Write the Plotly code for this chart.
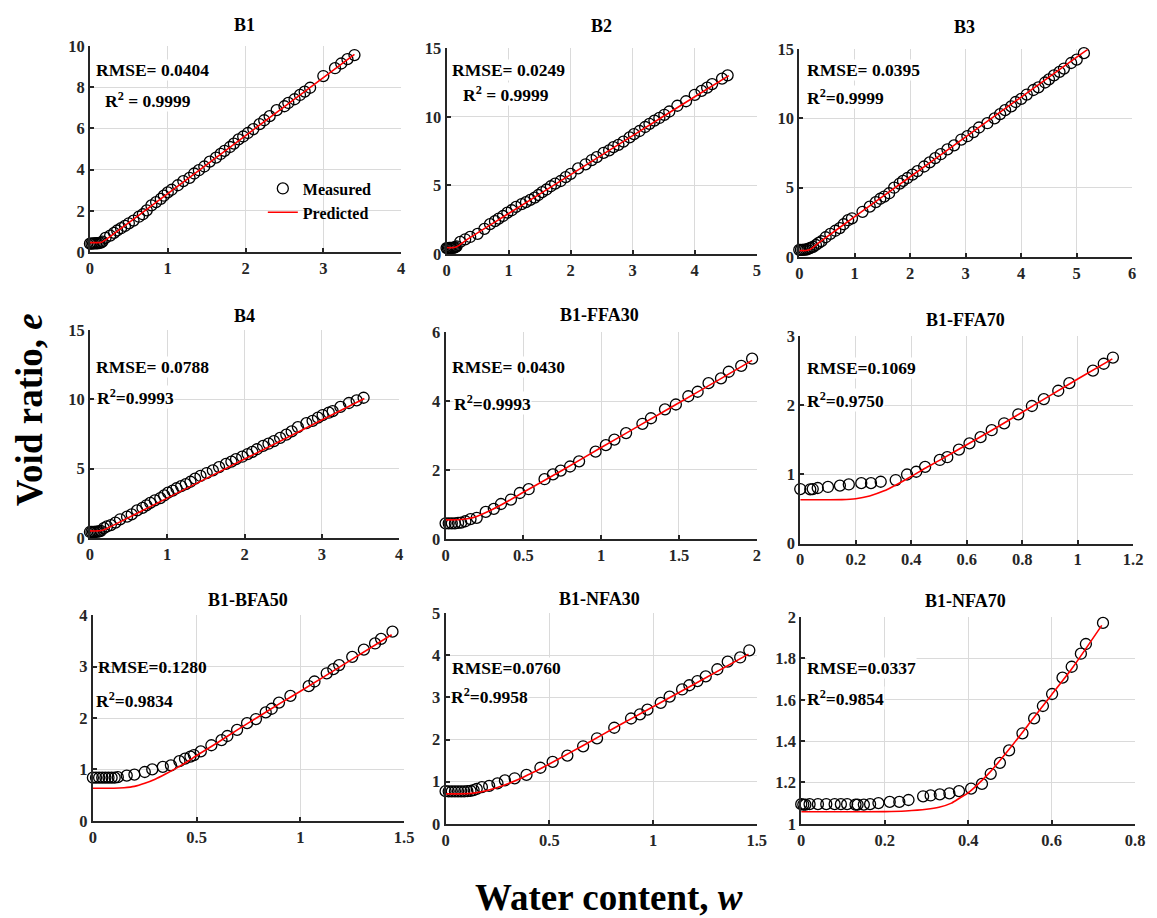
import plotly.graph_objects as go

# ---------------- DATA ----------------
panel_titles = ["B1", "B2", "B3", "B4", "B1-FFA30", "B1-FFA70", "B1-BFA50", "B1-NFA30", "B1-NFA70"]
rmse_labels = ["RMSE= 0.0404", "RMSE= 0.0249", "RMSE= 0.0395", "RMSE= 0.0788", "RMSE= 0.0430",
               "RMSE=0.1069", "RMSE=0.1280", "RMSE=0.0760", "RMSE=0.0337"]
r2_labels = ["R<sup>2</sup> = 0.9999", "R<sup>2</sup> = 0.9999", "R<sup>2</sup>=0.9999", "R<sup>2</sup>=0.9993",
             "R<sup>2</sup>=0.9993", "R<sup>2</sup>=0.9750", "R<sup>2</sup>=0.9834", "R<sup>2</sup>=0.9958",
             "R<sup>2</sup>=0.9854"]

b1_w = [0.0, 0.02, 0.04, 0.06, 0.08, 0.1, 0.12, 0.14, 0.16, 0.2, 0.26, 0.31, 0.35, 0.4, 0.45, 0.5, 0.56, 0.63,
        0.68, 0.73, 0.79, 0.85, 0.91, 0.95, 1.0, 1.05, 1.13, 1.2, 1.28, 1.34, 1.4, 1.47, 1.54, 1.62, 1.68, 1.73,
        1.8, 1.85, 1.91, 1.97, 2.03, 2.1, 2.18, 2.24, 2.31, 2.4, 2.5, 2.55, 2.63, 2.7, 2.76, 2.83, 3.0, 3.15,
        3.23, 3.31, 3.4]
b1_e = [0.40, 0.40, 0.41, 0.41, 0.42, 0.42, 0.43, 0.45, 0.5, 0.68, 0.79, 0.92, 1.04, 1.15, 1.26, 1.39, 1.52, 1.71,
        1.83, 2.02, 2.26, 2.42, 2.58, 2.73, 2.89, 3.02, 3.24, 3.44, 3.6, 3.81, 3.97, 4.15, 4.39, 4.58, 4.76, 4.91,
        5.1, 5.26, 5.47, 5.61, 5.78, 5.97, 6.21, 6.4, 6.6, 6.89, 7.08, 7.24, 7.42, 7.63, 7.79, 7.98, 8.55, 8.93,
        9.16, 9.37, 9.57]
b1_wp = [0.0, 0.1, 0.15, 0.2, 0.25, 0.3, 1.0, 2.0, 3.0, 3.4]
b1_ep = [0.45, 0.45, 0.47, 0.58, 0.72, 0.86, 2.83, 5.65, 8.47, 9.6]

b2_w = [0.0, 0.02, 0.04, 0.06, 0.08, 0.1, 0.12, 0.14, 0.16, 0.22, 0.3, 0.38, 0.5, 0.61, 0.7, 0.78, 0.84, 0.91,
        0.98, 1.05, 1.12, 1.21, 1.28, 1.35, 1.42, 1.48, 1.54, 1.61, 1.68, 1.75, 1.84, 1.92, 2.0, 2.12, 2.24, 2.34,
        2.42, 2.53, 2.62, 2.69, 2.77, 2.85, 2.95, 3.02, 3.11, 3.2, 3.27, 3.35, 3.43, 3.51, 3.59, 3.72, 3.86, 4.0,
        4.11, 4.2, 4.28, 4.44, 4.53]
b2_e = [0.42, 0.42, 0.43, 0.43, 0.44, 0.44, 0.45, 0.48, 0.55, 0.87, 1.06, 1.23, 1.46, 1.82, 2.17, 2.38, 2.57, 2.76,
        3.0, 3.18, 3.42, 3.63, 3.77, 3.94, 4.1, 4.29, 4.5, 4.69, 4.93, 5.12, 5.31, 5.59, 5.83, 6.23, 6.53, 6.84,
        7.05, 7.36, 7.55, 7.78, 7.95, 8.18, 8.49, 8.73, 8.96, 9.25, 9.48, 9.72, 9.91, 10.14, 10.38, 10.8, 11.13,
        11.6, 11.89, 12.12, 12.38, 12.78, 13.02]
b2_wp = [0.0, 0.1, 0.15, 0.2, 0.3, 1.0, 2.0, 3.0, 4.0, 4.55]
b2_ep = [0.45, 0.45, 0.5, 0.62, 0.95, 2.94, 5.78, 8.62, 11.46, 13.0]

b3_w = [0.0, 0.03, 0.06, 0.09, 0.12, 0.15, 0.18, 0.21, 0.25, 0.3, 0.35, 0.4, 0.475, 0.56, 0.65, 0.73, 0.8, 0.88,
        0.95, 1.14, 1.27, 1.38, 1.46, 1.53, 1.62, 1.71, 1.81, 1.87, 1.95, 2.04, 2.13, 2.25, 2.35, 2.45, 2.55, 2.67,
        2.79, 2.92, 3.03, 3.14, 3.24, 3.39, 3.52, 3.62, 3.71, 3.82, 3.9, 4.0, 4.1, 4.22, 4.31, 4.43, 4.5, 4.59,
        4.69, 4.77, 4.9, 5.0, 5.13, 5.23]
b3_e = [0.5, 0.5, 0.5, 0.51, 0.52, 0.55, 0.6, 0.65, 0.72, 0.85, 1.0, 1.12, 1.41, 1.65, 1.88, 2.07, 2.35, 2.64,
        2.78, 3.25, 3.62, 3.95, 4.19, 4.35, 4.59, 4.99, 5.29, 5.48, 5.69, 5.93, 6.19, 6.52, 6.82, 7.13, 7.41, 7.76,
        8.05, 8.47, 8.71, 9.01, 9.34, 9.65, 10.0, 10.31, 10.59, 10.87, 11.18, 11.41, 11.72, 12.05, 12.24, 12.59,
        12.82, 13.11, 13.36, 13.6, 14.0, 14.24, 14.71, 15.01]
b3_wp = [0.0, 0.12, 0.18, 0.25, 0.35, 1.0, 2.0, 3.0, 4.0, 5.0, 5.2]
b3_ep = [0.45, 0.45, 0.5, 0.68, 1.0, 2.9, 5.78, 8.66, 11.54, 14.42, 14.98]

b4_w = [0.0, 0.02, 0.04, 0.06, 0.08, 0.1, 0.12, 0.14, 0.18, 0.22, 0.27, 0.33, 0.39, 0.48, 0.54, 0.61, 0.68, 0.73,
        0.78, 0.84, 0.91, 0.96, 1.01, 1.07, 1.12, 1.18, 1.24, 1.3, 1.36, 1.43, 1.51, 1.59, 1.67, 1.76, 1.83, 1.89,
        1.97, 2.04, 2.1, 2.16, 2.24, 2.31, 2.38, 2.46, 2.54, 2.61, 2.69, 2.8, 2.88, 2.95, 3.01, 3.09, 3.14, 3.24,
        3.35, 3.45, 3.54]
b4_e = [0.42, 0.42, 0.43, 0.43, 0.44, 0.45, 0.46, 0.5, 0.7, 0.82, 0.92, 1.1, 1.34, 1.53, 1.69, 1.98, 2.16, 2.35,
        2.52, 2.71, 2.87, 3.06, 3.27, 3.41, 3.58, 3.74, 3.88, 4.05, 4.28, 4.47, 4.68, 4.87, 5.11, 5.34, 5.51, 5.69,
        5.86, 6.05, 6.21, 6.4, 6.64, 6.8, 6.99, 7.22, 7.46, 7.69, 8.0, 8.28, 8.45, 8.68, 8.87, 9.04, 9.15, 9.46,
        9.74, 9.93, 10.12]
b4_wp = [0.0, 0.1, 0.15, 0.2, 0.3, 1.0, 2.0, 3.0, 3.55]
b4_ep = [0.5, 0.5, 0.53, 0.62, 0.9, 2.87, 5.69, 8.51, 10.06]

ffa30_w = [0.0, 0.02, 0.04, 0.06, 0.08, 0.1, 0.127, 0.16, 0.2, 0.258, 0.31, 0.356, 0.42, 0.477, 0.534, 0.636, 0.69,
           0.74, 0.8, 0.858, 0.964, 1.03, 1.085, 1.16, 1.265, 1.32, 1.41, 1.48, 1.56, 1.62, 1.69, 1.77, 1.82, 1.9,
           1.97]
ffa30_e = [0.45, 0.45, 0.45, 0.45, 0.46, 0.47, 0.51, 0.57, 0.61, 0.78, 0.87, 1.01, 1.14, 1.33, 1.44, 1.73, 1.87,
           1.98, 2.1, 2.25, 2.53, 2.72, 2.88, 3.07, 3.34, 3.5, 3.76, 3.9, 4.14, 4.27, 4.52, 4.66, 4.85, 5.02, 5.23]
ffa30_wp = [0.0, 0.05, 0.1, 0.15, 0.2, 0.3, 0.4, 0.5, 0.75, 1.0, 1.25, 1.5, 1.75, 1.97]
ffa30_ep = [0.55, 0.55, 0.56, 0.59, 0.65, 0.85, 1.09, 1.35, 1.99, 2.65, 3.3, 3.95, 4.6, 5.18]

ffa70_w = [0.0, 0.036, 0.045, 0.063, 0.1, 0.143, 0.175, 0.22, 0.255, 0.29, 0.344, 0.385, 0.418, 0.45, 0.503, 0.53,
           0.572, 0.61, 0.65, 0.69, 0.735, 0.786, 0.835, 0.878, 0.93, 0.97, 1.055, 1.094, 1.127]
ffa70_e = [0.79, 0.786, 0.79, 0.805, 0.82, 0.84, 0.856, 0.875, 0.875, 0.895, 0.92, 1.0, 1.04, 1.11, 1.21, 1.25,
           1.36, 1.45, 1.54, 1.64, 1.74, 1.87, 1.99, 2.09, 2.21, 2.32, 2.5, 2.6, 2.69]
ffa70_wp = [0.0, 0.1, 0.15, 0.2, 0.25, 0.3, 0.35, 0.4, 0.45, 0.5, 0.6, 0.7, 0.8, 0.9, 1.0, 1.125]
ffa70_ep = [0.635, 0.635, 0.637, 0.65, 0.69, 0.76, 0.86, 0.97, 1.09, 1.2, 1.43, 1.66, 1.9, 2.14, 2.38, 2.67]

bfa50_w = [0.0, 0.015, 0.03, 0.045, 0.06, 0.075, 0.09, 0.105, 0.12, 0.163, 0.2, 0.25, 0.286, 0.337, 0.376, 0.417,
           0.444, 0.47, 0.487, 0.52, 0.571, 0.62, 0.648, 0.695, 0.743, 0.786, 0.833, 0.862, 0.897, 0.952, 1.04,
           1.068, 1.127, 1.159, 1.187, 1.25, 1.306, 1.36, 1.389, 1.444]
bfa50_e = [0.84, 0.84, 0.84, 0.84, 0.84, 0.84, 0.84, 0.84, 0.85, 0.88, 0.9, 0.95, 1.0, 1.05, 1.08, 1.16, 1.21,
           1.25, 1.28, 1.35, 1.47, 1.57, 1.65, 1.77, 1.9, 1.98, 2.11, 2.18, 2.3, 2.43, 2.62, 2.71, 2.87, 2.95, 3.03,
           3.19, 3.33, 3.45, 3.54, 3.68]
bfa50_wp = [0.0, 0.1, 0.15, 0.2, 0.25, 0.3, 0.35, 0.4, 0.45, 0.5, 0.6, 0.7, 0.8, 0.9, 1.0, 1.2, 1.44]
bfa50_ep = [0.635, 0.635, 0.645, 0.67, 0.73, 0.81, 0.91, 1.02, 1.14, 1.27, 1.52, 1.78, 2.03, 2.28, 2.52, 3.02, 3.62]

nfa30_w = [0.0, 0.015, 0.03, 0.045, 0.06, 0.075, 0.09, 0.105, 0.12, 0.135, 0.15, 0.175, 0.21, 0.25, 0.286, 0.333,
           0.39, 0.457, 0.516, 0.587, 0.663, 0.73, 0.813, 0.894, 0.937, 0.973, 1.037, 1.08, 1.14, 1.175, 1.214,
           1.254, 1.31, 1.36, 1.42, 1.464]
nfa30_e = [0.775, 0.77, 0.77, 0.77, 0.77, 0.77, 0.77, 0.775, 0.78, 0.8, 0.83, 0.87, 0.9, 0.96, 1.03, 1.08, 1.16,
           1.33, 1.47, 1.62, 1.84, 2.03, 2.28, 2.5, 2.6, 2.71, 2.87, 3.02, 3.19, 3.29, 3.39, 3.5, 3.67, 3.85, 3.95,
           4.12]
nfa30_wp = [0.0, 0.1, 0.15, 0.2, 0.25, 0.3, 0.35, 0.4, 0.45, 0.5, 0.6, 0.7, 0.8, 0.9, 1.0, 1.2, 1.46]
nfa30_ep = [0.71, 0.715, 0.74, 0.79, 0.86, 0.95, 1.05, 1.17, 1.29, 1.42, 1.69, 1.96, 2.24, 2.51, 2.78, 3.32, 4.03]

nfa70_w = [0.0, 0.005, 0.01, 0.02, 0.04, 0.06, 0.08, 0.095, 0.11, 0.13, 0.135, 0.15, 0.165, 0.185, 0.212, 0.235,
           0.257, 0.292, 0.31, 0.332, 0.355, 0.378, 0.407, 0.433, 0.454, 0.476, 0.498, 0.53, 0.558, 0.579, 0.601,
           0.626, 0.648, 0.67, 0.682, 0.723]
nfa70_e = [1.095, 1.093, 1.093, 1.095, 1.095, 1.095, 1.095, 1.095, 1.095, 1.093, 1.093, 1.093, 1.095, 1.1, 1.106,
           1.106, 1.115, 1.133, 1.137, 1.142, 1.147, 1.158, 1.17, 1.193, 1.242, 1.295, 1.355, 1.438, 1.51, 1.57,
           1.628, 1.707, 1.76, 1.823, 1.87, 1.972]
nfa70_wp = [0.0, 0.1, 0.2, 0.25, 0.3, 0.33, 0.36, 0.38, 0.4, 0.42, 0.45, 0.5, 0.55, 0.6, 0.65, 0.72]
nfa70_ep = [1.058, 1.058, 1.059, 1.062, 1.07, 1.08, 1.1, 1.125, 1.15, 1.185, 1.245, 1.365, 1.495, 1.625, 1.755, 1.96]

measured = [(b1_w, b1_e), (b2_w, b2_e), (b3_w, b3_e), (b4_w, b4_e), (ffa30_w, ffa30_e),
            (ffa70_w, ffa70_e), (bfa50_w, bfa50_e), (nfa30_w, nfa30_e), (nfa70_w, nfa70_e)]
predicted = [(b1_wp, b1_ep), (b2_wp, b2_ep), (b3_wp, b3_ep), (b4_wp, b4_ep), (ffa30_wp, ffa30_ep),
             (ffa70_wp, ffa70_ep), (bfa50_wp, bfa50_ep), (nfa30_wp, nfa30_ep), (nfa70_wp, nfa70_ep)]

x_ranges = [[0, 4], [0, 5], [0, 6], [0, 4], [0, 2], [0, 1.2], [0, 1.5], [0, 1.5], [0, 0.8]]
x_dticks = [1, 1, 1, 1, 0.5, 0.2, 0.5, 0.5, 0.2]
y_ranges = [[0, 10], [0, 15], [0, 15], [0, 15], [0, 6], [0, 3], [0, 4], [0, 5], [1, 2]]
y_dticks = [2, 5, 5, 5, 2, 1, 1, 1, 0.2]

# ---------------- LAYOUT (pixel boxes) ----------------
W, H = 1157, 918
boxes = [(87, 402, 38, 248), (448, 762, 40, 250), (805, 1142, 41, 253),
         (87, 400, 328, 540), (447, 762, 330, 541), (806, 1143, 334, 546),
         (90, 405, 619, 829), (447, 762, 617, 832), (807, 1145, 621, 832)]
title_pos = [(243, 16), (605, 17), (972, 18), (243, 313), (603, 312), (973, 318), (247, 603), (603, 602), (973, 605)]
rmse_pos = [(92, 62), (452, 62), (812, 62), (92, 366), (452, 366), (812, 367), (94, 672), (452, 673), (812, 673)]
r2_pos = [(101, 93), (464, 87), (812, 90), (93, 396), (454, 402), (812, 399), (92, 706), (451, 702), (812, 704)]
label_bg = ["white", "white", "white", "white", "white", "white", "rgba(0,0,0,0)", "white", "white"]

FONT = "Liberation Serif"
fig = go.Figure()
layout = dict(width=W, height=H, margin=dict(l=0, r=0, t=0, b=0), autosize=False,
              paper_bgcolor="white", plot_bgcolor="white", showlegend=True)
annotations = []

for i in range(9):
    k = "" if i == 0 else str(i + 1)
    xa, ya = "x" + k, "y" + k
    mw, me = measured[i]
    pw, pe = predicted[i]
    fig.add_trace(go.Scatter(x=mw, y=me, mode="markers", name="Measured", xaxis=xa, yaxis=ya,
                             cliponaxis=False,
                             marker=dict(symbol="circle-open", size=11, color="black", line=dict(width=1.3)),
                             showlegend=(i == 0)))
    fig.add_trace(go.Scatter(x=pw, y=pe, mode="lines", name="Predicted", xaxis=xa, yaxis=ya,
                             line=dict(color="red", width=1.6, shape="spline", smoothing=0.6),
                             showlegend=(i == 0)))
    x0, x1, y0, y1 = boxes[i]
    common = dict(showgrid=True, gridcolor="#dadada", gridwidth=1, zeroline=False, showline=True,
                  linecolor="#262626", linewidth=2, ticks="inside", ticklen=4, tickwidth=1.5,
                  tickcolor="#262626", mirror=False,
                  tickfont=dict(family=FONT, size=16.5, color="#262626", weight="bold"))
    layout["xaxis" + k] = dict(domain=[x0 / W, x1 / W], range=x_ranges[i], dtick=x_dticks[i], tick0=0,
                               anchor=ya, **common)
    layout["yaxis" + k] = dict(domain=[1 - y1 / H, 1 - y0 / H], range=y_ranges[i], dtick=y_dticks[i],
                               tick0=0, anchor=xa, **common)
    tx, ty = title_pos[i]
    annotations.append(dict(text=panel_titles[i], x=tx / W, y=1 - ty / H, xref="paper", yref="paper",
                            showarrow=False, xanchor="center", yanchor="middle",
                            font=dict(family=FONT, size=18, color="black", weight="bold")))
    rx, ry = rmse_pos[i]
    annotations.append(dict(text=rmse_labels[i], x=rx / W, y=1 - ry / H, xref="paper", yref="paper",
                            showarrow=False, xanchor="left", yanchor="middle", bgcolor=label_bg[i],
                            borderpad=0,
                            font=dict(family=FONT, size=17.5, color="black", weight="bold")))
    qx, qy = r2_pos[i]
    annotations.append(dict(text=r2_labels[i], x=qx / W, y=1 - qy / H, xref="paper", yref="paper",
                            showarrow=False, xanchor="left", yanchor="middle", bgcolor=label_bg[i],
                            borderpad=0,
                            font=dict(family=FONT, size=17.5, color="black", weight="bold")))

annotations.append(dict(text="Void ratio, <i>e</i>", x=26 / W, y=1 - 409 / H, xref="paper", yref="paper",
                        showarrow=False, textangle=-90, xanchor="center", yanchor="middle",
                        font=dict(family=FONT, size=37, color="black", weight="bold")))
annotations.append(dict(text="Water content, <i>w</i>", x=612 / W, y=1 - 907 / H, xref="paper", yref="paper",
                        showarrow=False, xanchor="center", yanchor="middle",
                        font=dict(family=FONT, size=37, color="black", weight="bold")))
layout["annotations"] = annotations
layout["legend"] = dict(x=262 / W, y=1 - 166 / H, xanchor="left", yanchor="top", bgcolor="rgba(0,0,0,0)",
                        borderwidth=0, tracegroupgap=0, itemwidth=30,
                        font=dict(family=FONT, size=16, color="black", weight="bold"))
fig.update_layout(**layout)
fig.write_html("out.html")
